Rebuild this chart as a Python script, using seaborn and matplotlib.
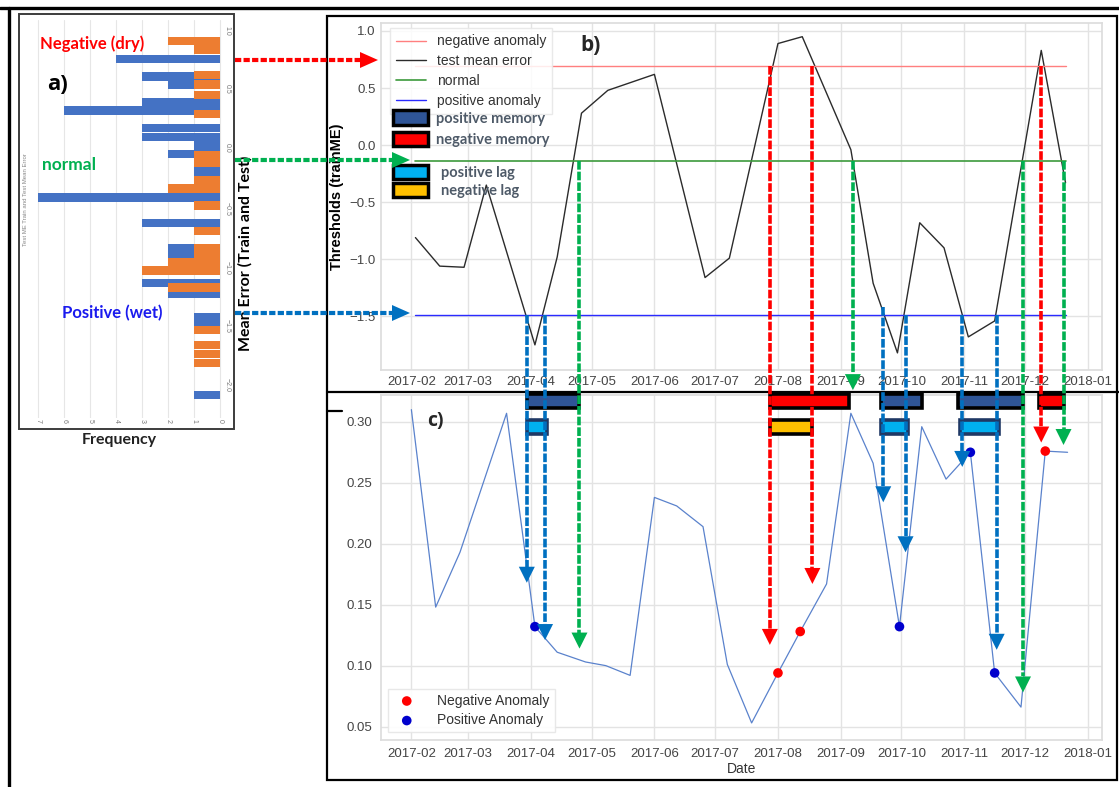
import numpy as np
import pandas as pd
import matplotlib
matplotlib.use("Agg")
import matplotlib.pyplot as plt
import matplotlib.dates as mdates
from matplotlib.lines import Line2D
from matplotlib.patches import Patch, Rectangle, Polygon
import seaborn as sns

# ---------------- data ----------------
# a) histogram of mean error (bin centre, frequency)
hist_test_me = [0.74, 0.59, 0.52, 0.37, 0.30, 0.15, 0.075, 0.00, -0.07, -0.22, -0.44,
                -0.66, -0.875, -0.94, -1.17, -1.26, -1.46, -1.51, -2.125]
hist_test_freq = [4, 3, 2, 3, 6, 3, 3, 1, 2, 1, 7, 3, 2, 2, 3, 2, 1, 1, 1]
hist_train_me = [0.89, 0.82, 0.60, 0.52, 0.43, 0.27, -0.08, -0.15, -0.295, -0.365, -0.51,
                 -0.725, -0.87, -0.93, -0.995, -1.065, -1.21, -1.57, -1.70, -1.775, -1.85]
hist_train_freq = [2, 1, 1, 1, 1, 1, 1, 1, 1, 2, 1, 1, 1, 1, 2, 3, 2, 1, 1, 1, 1]

# b) test mean error and thresholds
dates_b = ["2017-02-03", "2017-02-15", "2017-02-27", "2017-03-10", "2017-04-03", "2017-04-14",
           "2017-04-26", "2017-05-09", "2017-06-01", "2017-06-26", "2017-07-08", "2017-08-01",
           "2017-08-13", "2017-09-06", "2017-09-17", "2017-09-29", "2017-10-10", "2017-10-22",
           "2017-11-03", "2017-11-16", "2017-12-09", "2017-12-21"]
me_b = [-0.81, -1.06, -1.07, -0.35, -1.75, -0.98, 0.28, 0.48, 0.62, -1.16, -0.99, 0.89,
        0.95, -0.04, -1.21, -1.82, -0.68, -0.90, -1.68, -1.54, 0.83, -0.33]
neg_anomaly = 0.69
normal_thr = -0.14
pos_anomaly = -1.49

# c) series with anomalies
dates_c = ["2017-02-01", "2017-02-13", "2017-02-25", "2017-03-20", "2017-04-03", "2017-04-14",
           "2017-04-28", "2017-05-08", "2017-05-20", "2017-06-01", "2017-06-12", "2017-06-25",
           "2017-07-07", "2017-07-19", "2017-08-01", "2017-08-12", "2017-08-25", "2017-09-06",
           "2017-09-17", "2017-09-30", "2017-10-11", "2017-10-23", "2017-11-04", "2017-11-16",
           "2017-11-29", "2017-12-11", "2017-12-22"]
val_c = [0.310, 0.148, 0.193, 0.307, 0.132, 0.111, 0.103, 0.100, 0.092, 0.238, 0.231, 0.214,
         0.101, 0.053, 0.094, 0.128, 0.167, 0.307, 0.266, 0.132, 0.296, 0.253, 0.275, 0.094,
         0.066, 0.276, 0.275]
neg_dates = ["2017-08-01", "2017-08-12", "2017-12-11"]
neg_vals = [0.094, 0.128, 0.276]
pos_dates = ["2017-04-03", "2017-09-30", "2017-11-04", "2017-11-16"]
pos_vals = [0.132, 0.132, 0.275, 0.094]

# memory / lag periods
pos_mem_start = ["2017-03-30", "2017-09-21", "2017-10-29"]
pos_mem_end = ["2017-04-25", "2017-10-11", "2017-11-30"]
neg_mem_start = ["2017-07-28", "2017-12-08"]
neg_mem_end = ["2017-09-05", "2017-12-20"]
pos_lag_start = ["2017-03-30", "2017-09-21", "2017-10-30"]
pos_lag_end = ["2017-04-09", "2017-10-04", "2017-11-18"]
neg_lag_start = ["2017-07-28"]
neg_lag_end = ["2017-08-18"]

# vertical connector arrows (date, kind, start value in b, end value in c)
arrow_dates = ["2017-03-30", "2017-04-08", "2017-04-25", "2017-07-28", "2017-08-18",
               "2017-09-07", "2017-09-22", "2017-10-03", "2017-10-31", "2017-11-17",
               "2017-11-30", "2017-12-09", "2017-12-20"]
arrow_kind = ["pos", "pos", "norm", "neg", "neg", "norm", "pos", "pos", "pos", "pos",
              "norm", "neg", "norm"]
arrow_start = [-1.49, -1.49, -0.14, 0.69, 0.69, -0.14, -1.42, -1.49, -1.49, -1.49,
               -0.14, 0.69, -0.14]
arrow_end = [0.168, 0.121, 0.114, 0.117, 0.167, 0.326, 0.234, 0.193, 0.263, 0.113,
             0.078, 0.283, 0.281]

# ---------------- style ----------------
sns.set_theme(style="whitegrid")
plt.rcParams["font.family"] = ["Liberation Sans", "DejaVu Sans"]
plt.rcParams["axes.edgecolor"] = "#dddddd"
plt.rcParams["grid.color"] = "#e3e3e3"

W, H = 1119, 787
fig = plt.figure(figsize=(W / 100, H / 100), dpi=100)
fig.patch.set_facecolor("white")


def fx(px):
    return px / W


def fy(py):
    return 1 - py / H


ARROW_COL = {"pos": "#0070c0", "neg": "#ff0000", "norm": "#00b050"}
TICK_COL = "#444444"

# ---------------- axes ----------------
ax_a = fig.add_axes([fx(29), fy(418), (222 - 29) / W, (418 - 20) / H])
ax_b = fig.add_axes([fx(381), fy(370), (1102 - 381) / W, (370 - 23) / H])
ax_c = fig.add_axes([fx(381), fy(740), (1102 - 381) / W, (740 - 395) / H])

# ---- panel a ----
ax_a.barh(hist_test_me, hist_test_freq, height=0.072, color="#4472c4", zorder=2,
          linewidth=0)
ax_a.barh(hist_train_me, hist_train_freq, height=0.072, color="#ed7d31", zorder=3,
          linewidth=0)
ax_a.set_xlim(7.35, -0.08)
ax_a.set_ylim(-2.32, 1.07)
ax_a.yaxis.tick_right()
ax_a.set_yticks([-2.0, -1.5, -1.0, -0.5, 0.0, 0.5, 1.0])
ax_a.set_xticks(range(0, 8))
ax_a.tick_params(axis="y", labelsize=5, labelcolor="#777777", rotation=-90, pad=1, length=0)
ax_a.tick_params(axis="x", labelsize=5, labelcolor="#777777", rotation=-90, pad=1, length=0)
ax_a.grid(axis="y", visible=False)
ax_a.grid(axis="x", color="#e6e6e6", lw=0.8)
for s in ax_a.spines.values():
    s.set_visible(False)
fig.text(fx(26), fy(200), "Test ME Train and Test Mean Error", rotation=90, fontsize=4.3,
         color="#888888", ha="center", va="center")
fig.add_artist(Rectangle((fx(19), fy(429)), (234 - 19) / W, (429 - 14) / H, fill=False,
                         edgecolor="#3c3c3c", lw=1.4, transform=fig.transFigure))
fig.text(fx(92), fy(44), "Negative (dry)", color="#ff0000", fontsize=12, fontweight="bold",
         family=["Lato", "DejaVu Sans"], ha="center", va="center")
fig.text(fx(58), fy(85), "a)", color="black", fontsize=16, fontweight="bold",
         family=["Open Sans", "DejaVu Sans"], ha="center", va="center")
fig.text(fx(69), fy(165), "normal", color="#00b050", fontsize=12.5, fontweight="bold",
         family=["Lato", "DejaVu Sans"], ha="center", va="center")
fig.text(fx(112), fy(313), "Positive (wet)", color="#1a1aee", fontsize=12, fontweight="bold",
         family=["Lato", "DejaVu Sans"], ha="center", va="center")
fig.text(fx(245), fy(253), "Mean Error (Train and Test)", rotation=90, color="black",
         fontsize=11.5, fontweight="bold", family=["Lato", "DejaVu Sans"],
         ha="center", va="center")
fig.text(fx(119), fy(440), "Frequency", color="#222222", fontsize=11.5, fontweight="bold",
         family=["Lato", "DejaVu Sans"], ha="center", va="center")

# ---- panel b ----
db = pd.to_datetime(dates_b)
sns.lineplot(x=db, y=me_b, ax=ax_b, color="#2b2b2b", lw=1.0, label="_test")
ln_neg, = ax_b.plot([db[0], db[-1]], [neg_anomaly, neg_anomaly], color="#ff7f7f", lw=1.0)
ln_nor, = ax_b.plot([db[0], db[-1]], [normal_thr, normal_thr], color="#3c9a3c", lw=1.2)
ln_pos, = ax_b.plot([db[0], db[-1]], [pos_anomaly, pos_anomaly], color="#2a2aff", lw=1.0)
xmin, xmax = pd.Timestamp("2017-01-17"), pd.Timestamp("2018-01-08")
ax_b.set_xlim(xmin, xmax)
ax_b.set_ylim(-1.97, 1.07)
ax_b.set_yticks([-1.5, -1.0, -0.5, 0.0, 0.5, 1.0])
ax_b.xaxis.set_major_locator(mdates.MonthLocator())
ax_b.xaxis.set_major_formatter(mdates.DateFormatter("%Y-%m"))
ax_b.tick_params(labelsize=9.5, labelcolor=TICK_COL, length=0, pad=4)
ax_b.set_xlabel("")
ax_b.set_ylabel("Thresholds (trainME)", fontsize=10.5, fontweight="bold", color="black",
                labelpad=4)
h_test = Line2D([], [], color="#2b2b2b", lw=1.0)
leg1 = ax_b.legend([ln_neg, h_test, ln_nor, ln_pos],
                   ["negative anomaly", "test mean error", "normal", "positive anomaly"],
                   loc="upper left", bbox_to_anchor=(0.012, 0.985), borderaxespad=0,
                   fontsize=10, labelcolor="#333333", handlelength=2.15, handletextpad=0.8,
                   labelspacing=0.42, borderpad=0.45, frameon=True, framealpha=0.85,
                   edgecolor="#e6e6e6", fancybox=False)
ax_b.add_artist(leg1)
mem_handles = [Patch(facecolor="#2f5597", edgecolor="black", lw=2.5),
               Patch(facecolor="#ff0000", edgecolor="black", lw=2.5)]
leg2 = ax_b.legend(mem_handles, ["positive memory", "negative memory"], loc="upper left",
                   bbox_to_anchor=(0.0166, 0.748), borderaxespad=0, borderpad=0,
                   frameon=False, handlelength=2.4, handleheight=1.15, handletextpad=0.55,
                   labelspacing=0.42, prop={"family": ["Lato", "DejaVu Sans"],
                                            "weight": "bold", "size": 10.5})
for t in leg2.get_texts():
    t.set_color("#4e5a68")
ax_b.add_artist(leg2)
lag_handles = [Patch(facecolor="#00b0f0", edgecolor="black", lw=2.5),
               Patch(facecolor="#ffc000", edgecolor="black", lw=2.5)]
leg3 = ax_b.legend(lag_handles, ["positive lag", "negative lag"], loc="upper left",
                   bbox_to_anchor=(0.0166, 0.590), borderaxespad=0, borderpad=0,
                   frameon=False, handlelength=2.4, handleheight=1.1, handletextpad=0.9,
                   labelspacing=0.22, prop={"family": ["Lato", "DejaVu Sans"],
                                            "weight": "bold", "size": 10.5})
for t in leg3.get_texts():
    t.set_color("#4e5a68")
ax_b.text(0.291, 0.935, "b)", transform=ax_b.transAxes, fontsize=15, fontweight="bold",
          family=["Open Sans", "DejaVu Sans"], ha="center", va="center")

# ---- panel c ----
dc = pd.to_datetime(dates_c)
sns.lineplot(x=dc, y=val_c, ax=ax_c, color="#5a82cc", lw=0.9)
sns.scatterplot(x=pd.to_datetime(neg_dates), y=neg_vals, ax=ax_c, color="#ff0000", s=48,
                edgecolor="none", label="Negative Anomaly", zorder=4)
sns.scatterplot(x=pd.to_datetime(pos_dates), y=pos_vals, ax=ax_c, color="#0000cd", s=48,
                edgecolor="none", label="Positive Anomaly", zorder=4)
ax_c.set_xlim(xmin, xmax)
ax_c.set_ylim(0.039, 0.322)
ax_c.set_yticks([0.05, 0.10, 0.15, 0.20, 0.25, 0.30])
ax_c.yaxis.set_major_formatter(matplotlib.ticker.FormatStrFormatter("%.2f"))
ax_c.xaxis.set_major_locator(mdates.MonthLocator())
ax_c.xaxis.set_major_formatter(mdates.DateFormatter("%Y-%m"))
ax_c.tick_params(labelsize=9.5, labelcolor=TICK_COL, length=0, pad=6)
ax_c.set_xlabel("Date", fontsize=10, color="#333333", labelpad=1)
ax_c.set_ylabel("")
ax_c.legend(loc="lower left", bbox_to_anchor=(0.0097, 0.023), borderaxespad=0, fontsize=10,
            labelcolor="#333333", handletextpad=1.2, labelspacing=0.4, borderpad=0.35,
            frameon=True, framealpha=0.9, edgecolor="#e6e6e6", fancybox=False,
            markerscale=1.0)
ax_c.text(0.076, 0.925, "c)", transform=ax_c.transAxes, fontsize=14, fontweight="bold",
          family=["Open Sans", "DejaVu Sans"], ha="center", va="center")


def draw_periods(starts, ends, yc, face, edge):
    s = mdates.date2num(pd.to_datetime(starts))
    e = mdates.date2num(pd.to_datetime(ends))
    bars = ax_c.barh([yc] * len(s), e - s, left=s, height=0.0115, color=face,
                     edgecolor=edge, linewidth=2.6, zorder=6)
    for p in bars.patches:
        p.set_clip_on(False)


draw_periods(pos_mem_start, pos_mem_end, 0.317, "#2f5597", "black")
draw_periods(neg_mem_start, neg_mem_end, 0.317, "#ff0000", "black")
draw_periods(pos_lag_start, pos_lag_end, 0.2955, "#00b0f0", "#1f3864")
draw_periods(neg_lag_start, neg_lag_end, 0.2955, "#ffc000", "black")

# ---------------- frames ----------------
def fig_line(xs, ys, **kw):
    fig.add_artist(Line2D([fx(x) for x in xs], [fy(y) for y in ys],
                          transform=fig.transFigure, **kw))


fig_line([0, W], [8, 8], color="black", lw=2.4)
fig_line([9, 9], [8, H], color="black", lw=2.4)
fig.add_artist(Rectangle((fx(327), fy(780)), (1117 - 327) / W, (780 - 16) / H, fill=False,
                         edgecolor="black", lw=1.6, transform=fig.transFigure))
fig_line([327, W], [392, 392], color="black", lw=1.6)
fig_line([327, 342], [411, 411], color="black", lw=1.6)

# ---------------- arrows ----------------
inv = fig.transFigure.inverted()


def d2f(ax, x, y):
    return inv.transform(ax.transData.transform((x, y)))


HW, HL = 8, 16
for d, k, ys, ye in zip(arrow_dates, arrow_kind, arrow_start, arrow_end):
    xn = mdates.date2num(pd.Timestamp(d))
    x0, y0 = d2f(ax_b, xn, ys)
    x1, y1 = d2f(ax_c, xn, ye)
    col = ARROW_COL[k]
    fig.add_artist(Line2D([x0, x0], [y0, y1 + HL / H], transform=fig.transFigure, color=col,
                          lw=2.6, linestyle=(0, (2.4, 0.55)), solid_capstyle="butt",
                          zorder=8))
    fig.add_artist(Polygon([[x1 - HW / W, y1 + HL / H], [x1 + HW / W, y1 + HL / H], [x1, y1]],
                           closed=True, transform=fig.transFigure, facecolor=col,
                           edgecolor="none", zorder=8))

for py, tip, col in [(60, 378, "#ff0000"), (160, 410, "#00b050"), (313, 410, "#0070c0")]:
    fig_line([235, tip - 17], [py, py], color=col, lw=3.0, linestyle=(0, (1.5, 0.55)),
             zorder=8)
    fig.add_artist(Polygon([[fx(tip - 18), fy(py - 8)], [fx(tip - 18), fy(py + 8)],
                            [fx(tip), fy(py)]], closed=True, transform=fig.transFigure,
                           facecolor=col, edgecolor="none", zorder=8))

fig.savefig("out.png", dpi=100, facecolor="white")
